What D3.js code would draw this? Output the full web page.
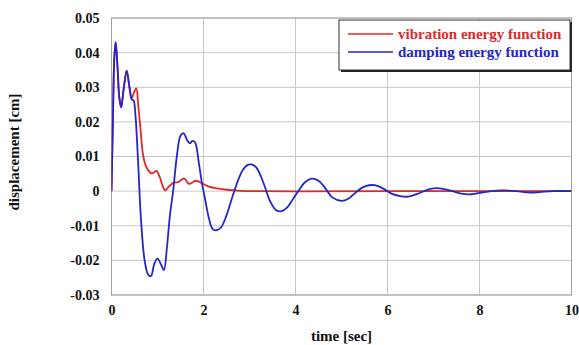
<!DOCTYPE html>
<html><head><meta charset="utf-8">
<script src="https://cdn.jsdelivr.net/npm/d3@7"></script>
<style>body{margin:0;background:#fff}svg{display:block}text{font-family:"Liberation Serif","Times New Roman",serif;font-weight:bold}</style>
</head><body><svg id="c" width="579" height="345"></svg>
<script>
const xTicks = [0, 2, 4, 6, 8, 10];
const yTicks = [-0.03, -0.02, -0.01, 0, 0.01, 0.02, 0.03, 0.04, 0.05];
const yTickLabels = ["-0.03", "-0.02", "-0.01", "0", "0.01", "0.02", "0.03", "0.04", "0.05"];
const seriesNames = ["vibration energy function", "damping energy function"];
const seriesColors = ["#e02828", "#2626c8"];

const dampT = [0,0.03,0.06,0.09,0.13,0.17,0.21,0.26,0.33,0.39,0.44,0.48,0.52,0.58,0.64,0.72,0.80,0.86,0.93,1.0,1.07,1.14,1.2,1.27,1.34,1.42,1.50,1.57,1.64,1.70,1.76,1.82,1.90,1.97,2.03,2.12,2.20,2.28,2.38,2.50,2.62,2.72,2.85,2.95,3.04,3.15,3.30,3.45,3.58,3.70,3.82,3.95,4.06,4.20,4.35,4.50,4.65,4.80,5.0,5.15,5.30,5.45,5.6,5.72,5.9,6.1,6.3,6.45,6.65,6.85,7.0,7.14,7.35,7.6,7.83,8.05,8.3,8.5,8.8,9.1,9.3,9.6,10];
const dampV = [0,0.02,0.038,0.043,0.036,0.027,0.0242,0.029,0.0348,0.030,0.0265,0.0262,0.022,0.008,-0.008,-0.020,-0.0242,-0.0245,-0.021,-0.0195,-0.021,-0.0228,-0.017,-0.007,0.0,0.010,0.016,0.0167,0.0148,0.0138,0.0145,0.0140,0.008,0.002,-0.002,-0.008,-0.0110,-0.0113,-0.0105,-0.007,-0.002,0.002,0.006,0.0075,0.0077,0.0068,0.0025,-0.003,-0.0055,-0.0058,-0.0047,-0.0022,0.0,0.0025,0.0036,0.0030,0.0008,-0.0018,-0.0028,-0.0022,-0.0005,0.001,0.0017,0.0017,0.0008,-0.0008,-0.0015,-0.0016,-0.0008,0.0003,0.0008,0.0008,0.0002,-0.0007,-0.0009,-0.0004,0.0001,0.0002,0.0,-0.0004,-0.0003,0.0,0.0];

const vibT = [0,0.03,0.06,0.09,0.13,0.17,0.21,0.26,0.33,0.39,0.44,0.49,0.54,0.58,0.63,0.68,0.74,0.80,0.87,0.93,0.98,1.05,1.12,1.17,1.24,1.34,1.45,1.58,1.68,1.76,1.83,1.95,2.1,2.3,2.5,2.8,3.2,4,6,10];
const vibV = [0,0.02,0.038,0.043,0.036,0.027,0.0242,0.029,0.0348,0.030,0.0268,0.0285,0.0297,0.025,0.018,0.011,0.0075,0.006,0.0051,0.0055,0.0058,0.004,0.0012,0.0002,0.0012,0.0024,0.0026,0.0037,0.0021,0.0025,0.003,0.0024,0.0014,0.0008,0.0004,0.0001,0.0,-0.0001,0,0];

const svg = d3.select("#c");
const m = {l: 111.5, r: 571.5, t: 18, b: 295};
const x = d3.scaleLinear().domain([0, 10]).range([m.l, m.r]);
const y = d3.scaleLinear().domain([-0.03, 0.05]).range([m.b, m.t]);

// grid
svg.append("g").selectAll("line.v").data(xTicks).join("line")
  .attr("x1", d => x(d)).attr("x2", d => x(d)).attr("y1", m.t).attr("y2", m.b)
  .attr("stroke", "#c8c8c8").attr("stroke-width", 1);
svg.append("g").selectAll("line.h").data(yTicks).join("line")
  .attr("x1", m.l).attr("x2", m.r).attr("y1", d => y(d)).attr("y2", d => y(d))
  .attr("stroke", "#c8c8c8").attr("stroke-width", 1);
svg.append("rect").attr("x", m.l).attr("y", m.t).attr("width", m.r - m.l).attr("height", m.b - m.t)
  .attr("fill", "none").attr("stroke", "#a0a0a0").attr("stroke-width", 1);

// axes labels via d3 axes
const xAxis = d3.axisBottom(x).tickValues(xTicks).tickSize(0).tickPadding(10).tickFormat(d3.format("d"));
const gx = svg.append("g").attr("transform", `translate(0,${m.b})`).call(xAxis);
gx.select(".domain").remove();
gx.selectAll("text").attr("font-size", 14).attr("fill", "#111").style("font-family", '"Liberation Serif",serif').style("font-weight", "bold");

const yAxis = d3.axisLeft(y).tickValues(yTicks).tickSize(0).tickPadding(12).tickFormat((d, i) => yTickLabels[i]);
const gy = svg.append("g").attr("transform", `translate(${m.l},0)`).call(yAxis);
gy.select(".domain").remove();
gy.selectAll("text").attr("font-size", 14).attr("fill", "#111").style("font-family", '"Liberation Serif",serif').style("font-weight", "bold");

svg.append("text").attr("x", (m.l + m.r) / 2).attr("y", 341).attr("text-anchor", "middle")
  .attr("font-size", 15).attr("fill", "#111").text("time [sec]");
svg.append("text").attr("transform", "translate(19,152) rotate(-90)").attr("text-anchor", "middle")
  .attr("font-size", 15).attr("fill", "#111").text("displacement [cm]");

// lines
const line = d3.line().x(d => x(d[0])).y(d => y(d[1])).curve(d3.curveCatmullRom.alpha(0.5));
const vib = d3.zip(vibT, vibV);
const damp = d3.zip(dampT, dampV);
const clip = svg.append("clipPath").attr("id", "pc").append("rect")
  .attr("x", m.l).attr("y", m.t).attr("width", m.r - m.l).attr("height", m.b - m.t);
const lg = svg.append("g").attr("clip-path", "url(#pc)");
lg.append("path").datum(vib).attr("d", line).attr("fill", "none").attr("stroke", seriesColors[0]).attr("stroke-width", 1.8);
lg.append("path").datum(damp).attr("d", line).attr("fill", "none").attr("stroke", seriesColors[1]).attr("stroke-width", 1.8);

// legend
const L = {x: 339, y: 20, w: 231, h: 50};
svg.append("rect").attr("x", L.x + 2).attr("y", L.y + 2).attr("width", L.w).attr("height", L.h).attr("fill", "#222");
svg.append("rect").attr("x", L.x).attr("y", L.y).attr("width", L.w).attr("height", L.h).attr("fill", "#fff").attr("stroke", "#333").attr("stroke-width", 1);
seriesNames.forEach((n, i) => {
  const yy = L.y + 14 + i * 18;
  svg.append("line").attr("x1", L.x + 9).attr("x2", L.x + 54).attr("y1", yy).attr("y2", yy)
    .attr("stroke", seriesColors[i]).attr("stroke-width", 1.5);
  svg.append("text").attr("x", L.x + 59).attr("y", yy + 5).attr("font-size", 15).attr("fill", seriesColors[i]).text(n);
});
</script></body></html>
